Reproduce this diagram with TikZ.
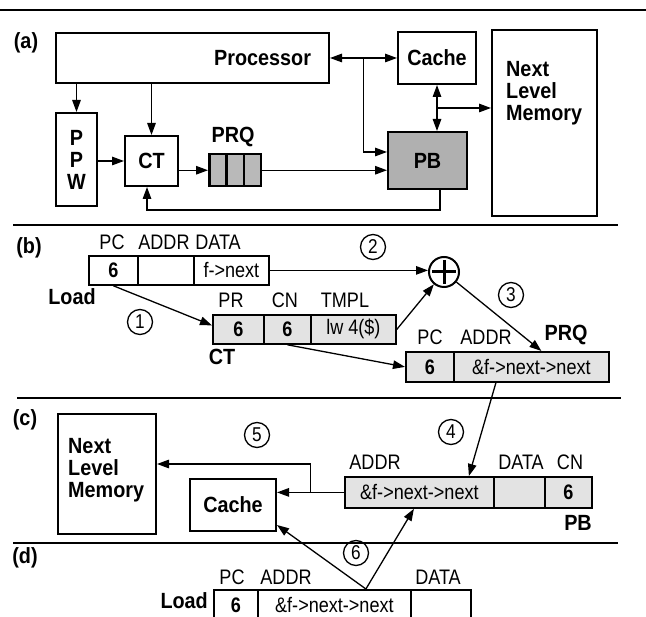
\documentclass[tikz,border=0pt]{standalone}
\usepackage{fontspec}
\setmainfont{Liberation Sans}[FakeStretch=0.86]
\newfontfamily\tagfont{Liberation Sans}[FakeStretch=0.9]
\usetikzlibrary{shapes,arrows,arrows.meta,positioning,calc}
\tikzstyle{arrow} = [line width=1.3pt,-{Triangle[length=12pt,width=8.5pt]}]
\tikzstyle{darrow} = [line width=1.3pt,{Triangle[length=12pt,width=8.5pt]}-{Triangle[length=12pt,width=8.5pt]}]
\tikzstyle{block} = [draw, line width=2pt, inner sep=0pt, anchor=north west, font=\tagfont\bfseries\fontsize{22}{22}\selectfont]
\tikzstyle{cell} = [draw, line width=1.8pt, inner sep=0pt, anchor=north west, fill=gray!22, minimum height=29pt, font=\fontsize{21}{22}\selectfont]
\tikzstyle{boldcell} = [font=\bfseries\fontsize{21}{22}\selectfont]
\tikzstyle{field} = [inner sep=0pt, font=\fontsize{21}{22}\selectfont]
\tikzstyle{tag} = [inner sep=0pt, font=\tagfont\bfseries\fontsize{22}{22}\selectfont]
\tikzstyle{num} = [draw, circle, line width=1.3pt, minimum size=25pt, inner sep=0pt, font=\fontsize{20}{22}\selectfont]
\tikzstyle{sep} = [line width=2pt]

\begin{document}
\begin{tikzpicture}[x=1pt,y=-1pt]
    \useasboundingbox (0,0) rectangle (646,617);

    % separators
    \draw[sep] (0,10) -- (646,10);
    \draw[sep] (13,225) -- (618,225);
    \draw[sep] (17,398) -- (621,398);
    \draw[sep] (13,543) -- (618,543);

    % (a) the system
    \node[tag] (la) at (26,43) {(a)};
    \node[block, minimum width=273pt, minimum height=50pt, text width=237pt, align=right, inner xsep=18pt] (proc) at (55,32) {Processor};
    \node[block, minimum width=78pt, minimum height=52pt] (cache) at (397,31) {Cache};
    \node[block, minimum width=105pt, minimum height=186pt] (mem) at (491,29) {};
    \node[tag, anchor=west, align=left] (memtxt) at (506,93) {Next\\Level\\Memory};
    \node[block, minimum width=41pt, minimum height=93pt, align=center] (ppw) at (55,112) {P\\P\\W};
    \node[block, minimum width=53pt, minimum height=50pt] (ct) at (124,135) {CT};
    \foreach \i in {0,1,2}
        \node[draw, line width=2.5pt, fill=gray!55, anchor=north west, minimum width=17.3pt, minimum height=32pt, inner sep=0pt] (prq\i) at (208+17.3*\i,153) {};
    \node[tag] (prqlbl) at (233,137) {PRQ};
    \node[block, fill=gray!62, minimum width=79pt, minimum height=57pt] (pb) at (387,131) {PB};

    \draw[arrow] (ppw.north |- proc.south) -- (ppw.north);
    \draw[arrow] (ct.north |- proc.south) -- (ct.north);
    \draw[arrow] (ppw.east |- ct.west) -- (ct.west);
    \draw[arrow] (ct.east |- prq0.west) -- (prq0.west);
    \draw[arrow] (prq2.east) -- (prq2.east -| pb.west);
    \draw[darrow] (proc.east |- cache.west) -- (cache.west);
    \coordinate (tap) at ($(proc.east |- cache.west)!0.5!(cache.west)$);
    \draw[arrow] (tap) |- ([yshift=8.5pt]pb.west);
    \draw[darrow] (cache.south) -- (cache.south |- pb.north);
    \coordinate (tap2) at ($(cache.south)!0.5!(cache.south |- pb.north)$);
    \draw[arrow] (tap2) -- (tap2 -| mem.west);
    \draw[arrow] ([xshift=12.5pt]pb.south) -- ++(0,20) -| ([xshift=-4.5pt]ct.south);

    % (b) the load and the CT lookup
    \node[tag] (lb) at (29,248) {(b)};
    \node[cell, fill=white, minimum width=49pt, boldcell] (ldpc) at (88,255) {6};
    \node[cell, fill=white, minimum width=56pt] (ldaddr) at (137,255) {};
    \node[cell, fill=white, minimum width=75pt] (lddata) at (193,255) {f->next};
    \node[field] (ldpclbl) at (112,242) {PC};
    \node[field] (ldaddrlbl) at (164,242) {ADDR};
    \node[field] (lddatalbl) at (218,242) {DATA};
    \node[tag] (ldlbl) at (72,297) {Load};

    \node[cell, minimum width=51pt, boldcell] (ctpr) at (212,314) {6};
    \node[cell, minimum width=47pt, boldcell] (ctcn) at (263,314) {6};
    \node[cell, minimum width=85pt] (cttm) at (310,314) {lw 4(\$)};
    \node[field] (ctprlbl) at (231,300) {PR};
    \node[field] (ctcnlbl) at (285,300) {CN};
    \node[field] (cttmlbl) at (345,300) {TMPL};
    \node[tag] (ctlbl) at (222,357) {CT};

    \node[draw, circle, line width=2pt, minimum size=30pt, inner sep=0pt] (plus) at (444,272) {};
    \draw[line width=3pt] ([yshift=-4pt]plus.north) -- ([yshift=4pt]plus.south);
    \draw[line width=3pt] ([xshift=4pt]plus.west) -- ([xshift=-4pt]plus.east);

    \node[cell, minimum width=48pt, minimum height=30pt, boldcell] (prqpc) at (405,351) {6};
    \node[cell, minimum width=155pt, minimum height=30pt] (prqaddr) at (453,351) {\&f->next->next};
    \node[field] (prqpclbl) at (430,337) {PC};
    \node[field] (prqaddrlbl) at (486,337) {ADDR};
    \node[tag] (prqtag) at (566,335) {PRQ};

    \draw[arrow] (ldpc.south) -- ([yshift=4pt]ctpr.west);
    \draw[arrow] (lddata.east) -- (lddata.east -| plus.west);
    \draw[arrow] (cttm.east) -- (plus);
    \draw[arrow] (plus) -- ([xshift=10pt]prqaddr.north);
    \draw[arrow] (ctcn.south) -- (prqpc.west);
    \node[num] (n1) at (140,322) {1};
    \node[num] (n2) at (373,247) {2};
    \node[num] (n3) at (511,295) {3};

    % (c) the prefetch
    \node[tag] (lc) at (25,420) {(c)};
    \node[block, minimum width=98pt, minimum height=120pt] (mem2) at (57,413) {};
    \node[tag, anchor=west, align=left] (mem2txt) at (68,470) {Next\\Level\\Memory};
    \node[block, minimum width=86pt, minimum height=52pt] (cache2) at (189,478) {Cache};
    \node[cell, minimum width=149pt, minimum height=31pt] (pbaddr) at (344,476) {\&f->next->next};
    \node[cell, minimum width=51pt, minimum height=31pt] (pbdata) at (493,476) {};
    \node[cell, minimum width=47pt, minimum height=31pt, boldcell] (pbcn) at (544,476) {6};
    \node[field] (pbaddrlbl) at (375,462) {ADDR};
    \node[field] (pbdatalbl) at (521,462) {DATA};
    \node[field] (pbcnlbl) at (570,462) {CN};
    \node[tag] (pbtag) at (578,523) {PB};

    \draw[arrow] ([xshift=-35.5pt]prqaddr.south) -- ([xshift=49.5pt]pbaddr.north);
    \draw[arrow] (pbaddr.west) -- (pbaddr.west -| cache2.east);
    \coordinate (tap3) at ($(pbaddr.west)!0.5!(pbaddr.west -| cache2.east)$);
    \draw[arrow] (tap3) |- ([yshift=10pt]mem2.east);
    \node[num] (n4) at (451,432) {4};
    \node[num] (n5) at (257,435) {5};

    % (d) the next load
    \node[tag] (ld) at (25,558) {(d)};
    \node[cell, fill=white, minimum width=44pt, minimum height=30pt, boldcell] (ld2pc) at (213,589) {6};
    \node[cell, fill=white, minimum width=153pt, minimum height=30pt] (ld2addr) at (257,589) {\&f->next->next};
    \node[cell, fill=white, minimum width=60pt, minimum height=30pt] (ld2data) at (410,589) {};
    \node[field] (ld2pclbl) at (232,577) {PC};
    \node[field] (ld2addrlbl) at (286,577) {ADDR};
    \node[field] (ld2datalbl) at (438,577) {DATA};
    \node[tag, anchor=east] (ld2lbl) at (208,601) {Load};

    \coordinate (fork) at ([xshift=31.5pt]ld2addr.north);
    \draw[arrow] (fork) -- ([yshift=7pt]cache2.south east);
    \draw[arrow] (fork) -- ([xshift=-5.5pt]pbaddr.south);
    \node[num] (n6) at (356,553) {6};
\end{tikzpicture}
\end{document}
